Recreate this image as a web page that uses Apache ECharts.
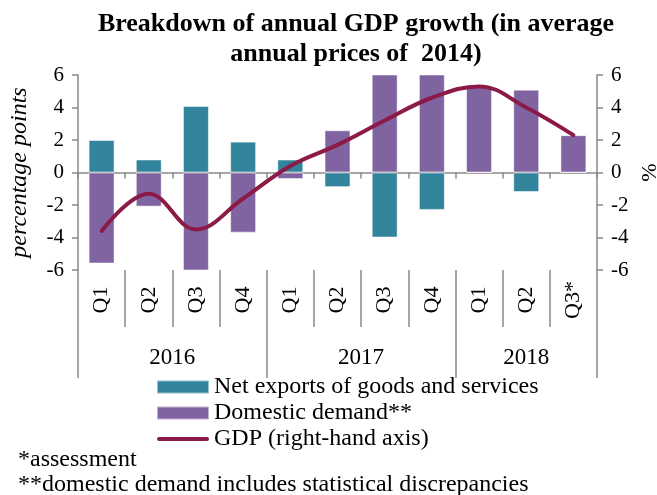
<!DOCTYPE html>
<html>
<head>
<meta charset="utf-8">
<script src="https://cdn.jsdelivr.net/npm/echarts@6/dist/echarts.min.js"></script>
<style>
  html, body { margin: 0; padding: 0; background: #fff; }
  #chart { width: 657px; height: 495px; }
</style>
</head>
<body>
<div id="chart"></div>
<script>
// Quarterly breakdown of annual GDP growth, 2016–2018
const quarters = ['Q1', 'Q2', 'Q3', 'Q4', 'Q1', 'Q2', 'Q3', 'Q4', 'Q1', 'Q2', 'Q3*'];
const years = ['2016', '2017', '2018'];
const quartersPerYear = [4, 4, 3];
const netExports = [2.0, 0.8, 4.1, 1.9, 0.8, -0.9, -4.0, -2.3, 0.0, -1.2, 0.0];
const domesticDemand = [-5.6, -2.1, -6.2, -3.7, -0.4, 2.6, 7.0, 6.6, 5.3, 5.1, 2.3];
const gdp = [-3.6, -1.3, -3.5, -1.6, 0.4, 1.7, 3.2, 4.6, 5.3, 4.0, 2.3];
const axisTicks = { min: -6, max: 6, interval: 2 };

const FONT = '"Liberation Serif", "Times New Roman", serif';
const AXIS_GREY = '#898989';
const GDP_RED = '#8B1A46';

// Half-quarter slots used to place year labels at group centres and
// year separators at group boundaries.
const halfSlots = [];
const yearCentres = {};
const yearBounds = new Set([0]);
let pos = 0;
years.forEach((y, i) => {
  yearCentres[pos + quartersPerYear[i]] = y;
  pos += quartersPerYear[i] * 2;
  yearBounds.add(pos);
});
for (let k = 0; k <= pos; k++) halfSlots.push(yearCentres[k] || '');

const chart = echarts.init(document.getElementById('chart'), null, { renderer: 'canvas' });

const valueAxis = (side) => ({
  type: 'value',
  position: side,
  min: axisTicks.min,
  max: axisTicks.max,
  interval: axisTicks.interval,
  axisLine: { show: true, lineStyle: { color: AXIS_GREY, width: 1.5 } },
  axisTick: { show: true, inside: false, length: 6, lineStyle: { color: AXIS_GREY, width: 1.5 } },
  axisLabel: { color: '#000', fontSize: 21, fontFamily: FONT, margin: 14 },
  splitLine: { show: false },
  nameLocation: 'middle',
  nameRotate: 90,
  nameTextStyle: { color: '#000', fontSize: 24, fontFamily: FONT }
});

const leftAxis = valueAxis('left');
leftAxis.name = 'percentage points';
leftAxis.nameGap = 46;
leftAxis.nameTextStyle.fontStyle = 'italic';
const rightAxis = valueAxis('right');
rightAxis.name = '%';
rightAxis.nameGap = 39;
rightAxis.nameTextStyle.fontSize = 22;

chart.setOption({
  animation: false,
  title: {
    text: 'Breakdown of annual GDP growth (in average\nannual prices of  2014)',
    left: 351,
    top: 4,
    textAlign: 'center',
    textStyle: { fontFamily: FONT, fontSize: 26, fontWeight: 'bold', color: '#000', lineHeight: 30 }
  },
  grid: { left: 78, right: 60, top: 75, height: 195, containLabel: false, outerBoundsMode: 'none' },
  legend: {
    orient: 'vertical',
    left: 151,
    top: 370,
    itemWidth: 52,
    itemHeight: 13,
    itemGap: 2,
    textStyle: { fontFamily: FONT, fontSize: 24, color: '#000' },
    data: [
      { name: 'Net exports of goods and services', icon: 'rect' },
      { name: 'Domestic demand**', icon: 'rect' },
      {
        name: 'GDP (right-hand axis)',
        icon: 'path://M2,0 L50,0 A2,2 0 0 1 50,4 L2,4 A2,2 0 0 1 2,0 Z',
        itemStyle: { color: GDP_RED }
      }
    ]
  },
  xAxis: [
    {
      // zero line with short ticks between quarters
      type: 'category',
      data: quarters,
      axisLine: { onZero: true, onZeroAxisIndex: 0, lineStyle: { color: AXIS_GREY, width: 1.5 } },
      axisTick: { show: true, length: 6, lineStyle: { color: AXIS_GREY, width: 1.5 } },
      axisLabel: { show: false }
    },
    {
      // quarter labels with separators below the plot
      type: 'category',
      data: quarters,
      position: 'bottom',
      axisLine: { show: false, onZero: false },
      axisTick: { show: true, length: 57, lineStyle: { color: AXIS_GREY, width: 1.5 } },
      axisLabel: {
        rotate: 90, margin: 30, align: 'center', verticalAlign: 'middle',
        interval: 0, color: '#000', fontSize: 22, fontFamily: FONT
      }
    },
    {
      // year labels and year separators
      type: 'category',
      data: halfSlots,
      boundaryGap: false,
      position: 'bottom',
      axisLine: { show: false, onZero: false },
      axisTick: {
        show: true, length: 108,
        interval: (i) => yearBounds.has(i),
        lineStyle: { color: AXIS_GREY, width: 1.5 }
      },
      axisLabel: {
        margin: 76, interval: (i, v) => v !== '', hideOverlap: false,
        color: '#000', fontSize: 23, fontFamily: FONT
      }
    }
  ],
  yAxis: [leftAxis, rightAxis],
  series: [
    {
      name: 'Net exports of goods and services',
      type: 'bar',
      stack: 'gdp',
      barWidth: '55%',
      xAxisIndex: 0,
      yAxisIndex: 0,
      itemStyle: { color: '#31849B', borderColor: 'rgba(255,255,255,0.5)', borderWidth: 1 },
      data: netExports
    },
    {
      name: 'Domestic demand**',
      type: 'bar',
      stack: 'gdp',
      barWidth: '55%',
      xAxisIndex: 0,
      yAxisIndex: 0,
      itemStyle: { color: '#8064A2', borderColor: 'rgba(255,255,255,0.5)', borderWidth: 1 },
      data: domesticDemand
    },
    {
      name: 'GDP (right-hand axis)',
      type: 'line',
      xAxisIndex: 0,
      yAxisIndex: 1,
      smooth: 0.4,
      symbol: 'none',
      lineStyle: { color: GDP_RED, width: 4, cap: 'round' },
      itemStyle: { color: GDP_RED },
      data: gdp
    }
  ],
  graphic: [
    { type: 'text', left: 18, top: 448, style: { text: '*assessment', font: '24px ' + FONT, fill: '#000' } },
    { type: 'text', left: 18, top: 473, style: { text: '**domestic demand includes statistical discrepancies', font: '24px ' + FONT, fill: '#000' } }
  ]
});
</script>
</body>
</html>
